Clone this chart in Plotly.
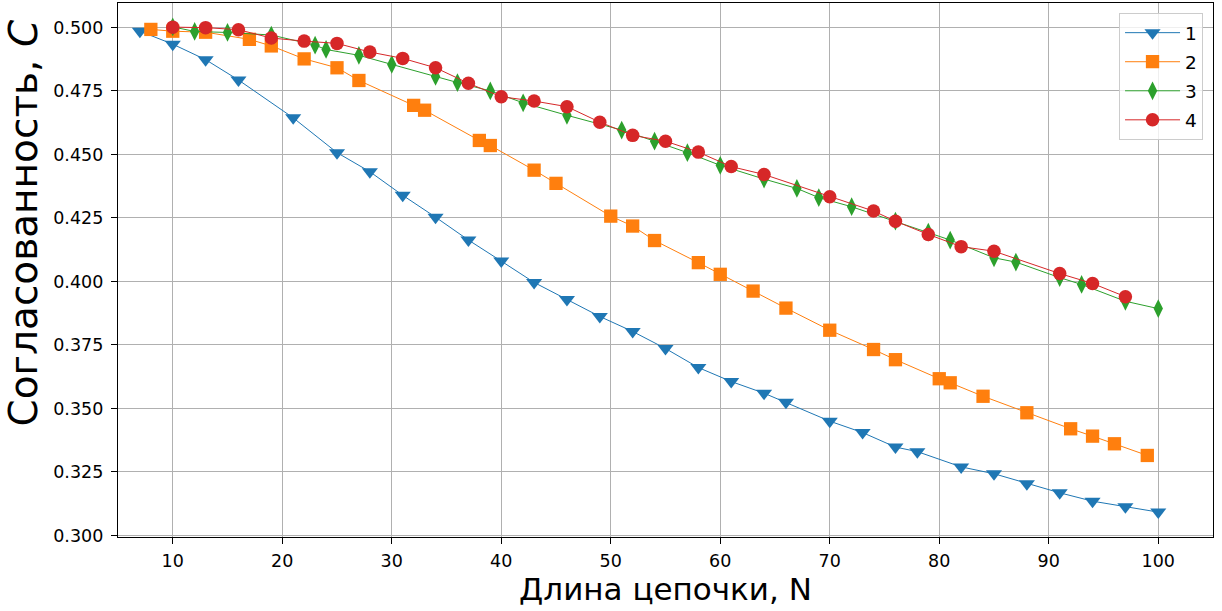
import plotly.graph_objects as go

# Chain length N and agreement C for each of the four series
n1 = [7, 10, 13, 16, 21, 25, 28, 31, 34, 37, 40, 43, 46, 49, 52, 55, 58, 61, 64, 66,
      70, 73, 76, 78, 82, 85, 88, 91, 94, 97, 100]
c1 = [0.4985, 0.4934, 0.4873, 0.4793, 0.4644, 0.4507, 0.4432, 0.4339, 0.4253, 0.4163,
      0.4080, 0.3996, 0.3929, 0.3862, 0.3803, 0.3736, 0.3661, 0.3606, 0.3560, 0.3524,
      0.3450, 0.3405, 0.3348, 0.3330, 0.3270, 0.3243, 0.3204, 0.3168, 0.3135, 0.3113,
      0.3092]

n2 = [8, 10, 13, 17, 19, 22, 25, 27, 32, 33, 38, 39, 43, 45, 50, 52, 54, 58, 60, 63,
      66, 70, 74, 76, 80, 81, 84, 88, 92, 94, 96, 99]
c2 = [0.4992, 0.4985, 0.4981, 0.4953, 0.4927, 0.4876, 0.4841, 0.4791, 0.4693, 0.4674,
      0.4555, 0.4535, 0.4438, 0.4386, 0.4257, 0.4218, 0.4161, 0.4074, 0.4028, 0.3962,
      0.3895, 0.3808, 0.3732, 0.3692, 0.3617, 0.3601, 0.3548, 0.3483, 0.3420, 0.3391,
      0.3361, 0.3315]

n3 = [10, 12, 15, 19, 23, 24, 27, 30, 34, 36, 39, 42, 46, 51, 54, 57, 60, 64, 67, 69,
      72, 76, 79, 81, 85, 87, 91, 93, 97, 100]
c3 = [0.5002, 0.4984, 0.4980, 0.4970, 0.4930, 0.4913, 0.4890, 0.4854, 0.4807, 0.4783,
      0.4750, 0.4703, 0.4654, 0.4596, 0.4552, 0.4507, 0.4457, 0.4403, 0.4366, 0.4330,
      0.4294, 0.4237, 0.4194, 0.4163, 0.4093, 0.4076, 0.4015, 0.3988, 0.3922, 0.3893]

n4 = [10, 13, 16, 19, 22, 25, 28, 31, 34, 37, 40, 43, 46, 49, 52, 55, 58, 61, 64, 70,
      74, 76, 79, 82, 85, 91, 94, 97]
c4 = [0.5001, 0.4999, 0.4991, 0.4958, 0.4946, 0.4937, 0.4903, 0.4878, 0.4841, 0.4780,
      0.4727, 0.4710, 0.4688, 0.4627, 0.4575, 0.4552, 0.4509, 0.4452, 0.4421, 0.4333,
      0.4277, 0.4237, 0.4185, 0.4137, 0.4119, 0.4031, 0.3992, 0.3940]

series_names = ["1", "2", "3", "4"]
x_ticks = [10, 20, 30, 40, 50, 60, 70, 80, 90, 100]
y_ticks = [0.300, 0.325, 0.350, 0.375, 0.400, 0.425, 0.450, 0.475, 0.500]

colors = ["#1f77b4", "#ff7f0e", "#2ca02c", "#d62728"]
symbols = ["triangle-down", "square", "diamond-tall", "circle"]
sizes = [14, 13.3, 13.4, 13.5]

FONT = "DejaVu Sans"

fig = go.Figure()
for xs, ys, name, col, sym, sz in zip(
        [n1, n2, n3, n4], [c1, c2, c3, c4], series_names, colors, symbols, sizes):
    fig.add_trace(go.Scatter(
        x=xs, y=ys, name=name, legendgroup=name, mode="lines+markers",
        line=dict(color=col, width=1),
        marker=dict(symbol=sym, size=sz, color=col, line=dict(width=0)),
    ))

axis_common = dict(
    showline=True, mirror=True, linecolor="black", linewidth=1.4,
    showgrid=True, gridcolor="#b0b0b0", gridwidth=1.3,
    ticks="outside", ticklen=6, tickwidth=1.4, tickcolor="black",
    tickfont=dict(family=FONT, size=17.5, color="black"),
    zeroline=False,
)

fig.update_xaxes(
    range=[5.0, 105.0], tickvals=x_ticks, ticktext=[str(v) for v in x_ticks],
    ticklabelstandoff=2,
    title=dict(text="Длина цепочки, N", font=dict(family=FONT, size=31, color="black"),
               standoff=8),
    **axis_common,
)
fig.update_yaxes(
    range=[0.2994, 0.5096], tickvals=y_ticks, tickformat=".3f",
    ticklabelstandoff=4,
    **axis_common,
)

fig.add_annotation(
    text="Согласованность, <i>C</i>", textangle=-90,
    xref="paper", yref="paper", x=0, y=0.5, xanchor="right", yanchor="middle",
    xshift=-71, yshift=47, showarrow=False,
    font=dict(family=FONT, size=39, color="black"),
)

fig.update_layout(
    width=1222, height=611,
    margin=dict(l=118, r=9, t=3, b=74),
    paper_bgcolor="white", plot_bgcolor="white",
    font=dict(family=FONT, color="black"),
    legend=dict(
        x=0.9909, y=0.981, xanchor="right", yanchor="top",
        bgcolor="rgba(255,255,255,0.8)", bordercolor="#cccccc", borderwidth=1,
        font=dict(family=FONT, size=18.5, color="black"),
        itemwidth=55, traceorder="grouped", tracegroupgap=2,
    ),
)

fig.write_html("out.html")
